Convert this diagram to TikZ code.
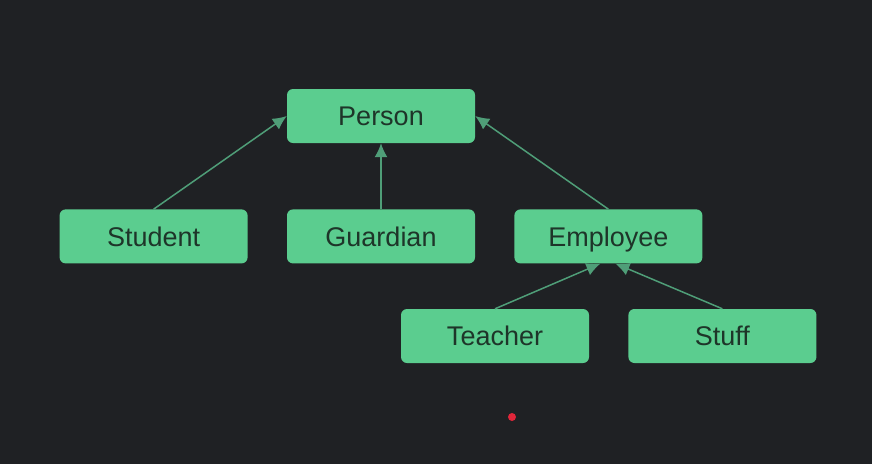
\documentclass[tikz,border=0pt]{standalone}
\usepackage{fontspec}
\setmainfont{Liberation Sans}
\usetikzlibrary{positioning,calc,arrows.meta}
\definecolor{bgdark}{HTML}{1F2124}
\definecolor{boxgreen}{HTML}{5BCD8F}
\definecolor{boxtext}{HTML}{1E3529}
\definecolor{linkgreen}{HTML}{4F9E78}
\definecolor{pointerred}{HTML}{E0263A}
\tikzset{
	class diagram/.style={
		x=1pt,y=-1pt,
		node distance=39pt,
		font=\fontsize{27}{31}\selectfont
	},
	classbox/.style={
		rectangle,
		fill=boxgreen,
		text=boxtext,
		rounded corners=6pt,
		minimum width=188pt,
		minimum height=54pt,
		inner sep=0pt,
		text height=19.5pt,text depth=0pt % centre the capitals in every box
	},
	inherits/.style={
		draw=linkgreen,
		line width=1.5pt,
		-{Latex[length=14pt,width=13pt]}
	}
}

\begin{document}
\begin{tikzpicture}[class diagram]
	\fill[bgdark] (0,0) rectangle (872,464);
	\useasboundingbox (0,0) rectangle (872,464);
	% classes
	\node[classbox] (person) at (381,116) {Person};
	\node[classbox, below=66pt of person] (guardian) {Guardian};
	\node[classbox, left=39pt of guardian] (student) {Student};
	\node[classbox, right=39pt of guardian] (employee) {Employee};
	\node[classbox] (teacher) at (495,336) {Teacher};
	\node[classbox, right=39pt of teacher] (stuff) {Stuff};
	% inheritance
	\draw[inherits] (student.north) -- (person.west);
	\draw[inherits] (guardian.north) -- (person.south);
	\draw[inherits] (employee.north) -- (person.east);
	\draw[inherits] (teacher.north) -- ($(employee.south)+(-8,0)$);
	\draw[inherits] (stuff.north) -- ($(employee.south)+(7,0)$);
	% pointer
	\coordinate (pointer) at (512,417);
	\fill[pointerred] (pointer) circle (4pt);
\end{tikzpicture}
\end{document}
